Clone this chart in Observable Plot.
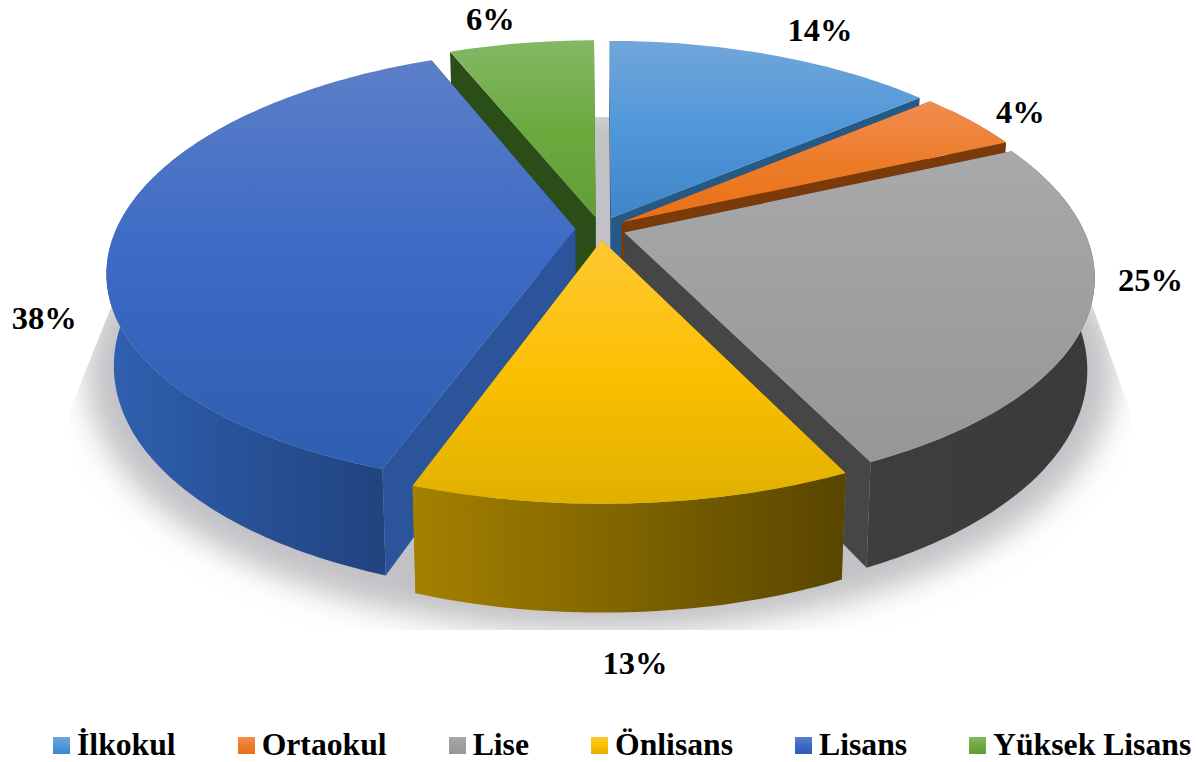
<!DOCTYPE html>
<html>
<head>
<meta charset="utf-8">
<script src="https://cdn.jsdelivr.net/npm/d3@7"></script>
<script src="https://cdn.jsdelivr.net/npm/@observablehq/plot@0.6"></script>
<style>
html,body{margin:0;padding:0;background:#fff}
#legend{display:flex;gap:62px;margin-left:53px;height:34px;align-items:center;font:bold 31.7px "Liberation Serif",serif;color:#000;white-space:nowrap}
#legend span.item{display:inline-flex;align-items:center;gap:7px}
#legend i{display:inline-block;width:17px;height:17px}
</style>
</head>
<body>
<div id="chart"></div>
<div id="legend"></div>
<script>
// Data
const categories = ["İlkokul","Ortaokul","Lise","Önlisans","Lisans","Yüksek Lisans"];
const shares = [13.9,4.4,24.6,12.5,38.4,6.1];

// Appearance
const topStops = [
  ["#72a6da","#4f97d9","#3f86c8"],
  ["#f08d52","#ec7c28","#ea7018"],
  ["#a9a9a9","#9f9f9f","#969696"],
  ["#ffc833","#fbc002","#e0b000"],
  ["#5c7fc8","#3b69c4","#2e5eb0"],
  ["#84b865","#6caa3e","#619e36"]
];
const rimStops = [["#255a86","#255a86"],["#7a3a0a","#7a3a0a"],["#3e3e3e","#3a3a3a"],["#a58100","#584500"],["#2f60b0","#21437f"],["#2b4d18","#2b4d18"]];
const wallFill = ["#255a86","#7a3a0a","#464646","#a58100","#2b549b","#2b4d18"];
const shadowFill = "#c2c2c6";
const drawOrder = [5,0,1,4,2,3];
const labelOffsets = [[47,-25],[50,-8],[61,-30],[2,160],[-70,84],[-31,-24]];

// 3D view
const cx=600, cy=228, Rx=458.7, Ry=212, k=0.1776, kx=0.195, explode=0.055, depth=88.5, baseShrink=0.985;
const rad = d => d*Math.PI/180;
const cum = d3.cumsum(shares);
const total = 100;
const slices = shares.map((s,i)=>{
  const a0=(i?cum[i-1]:0)/total*360, a1=cum[i]/total*360, mid=(a0+a1)/2;
  return {i,a0,a1,mid,ou:explode*Math.sin(rad(mid)),ov:explode*Math.cos(rad(mid))};
});
const proj=(u,v)=>{const s=1/(1+k*v);return {x:cx+Rx*u/(1+kx*v),y:cy-Ry*v*s,s};};
const base=(p)=>({x:cx+(p.x-cx)*baseShrink,y:p.y+depth*p.s});
const rimPt=(sl,a,r=1)=>proj(sl.ou+r*Math.sin(rad(a)),sl.ov+r*Math.cos(rad(a)));
const arc=(sl,r=1)=>{const n=Math.max(8,Math.ceil((sl.a1-sl.a0)));return d3.range(n+1).map(j=>rimPt(sl,sl.a0+(sl.a1-sl.a0)*j/n,r));};

const poly=(pts,fill)=>Plot.line(pts,{x:"x",y:"y",fill,stroke:"none",curve:"linear"});

const marks=[];
// gradients, blur, clip
marks.push((index,{x,y})=>{
  const defs=d3.create("svg:defs");
  const grad=(id,stops,x2,y2)=>{
    const g=defs.append("linearGradient").attr("id",id).attr("x1",0).attr("y1",0).attr("x2",x2).attr("y2",y2);
    stops.forEach((c,j)=>g.append("stop").attr("offset",j/(stops.length-1)).attr("stop-color",c));
  };
  topStops.forEach((s,i)=>grad("top"+i,s,0,1));
  rimStops.forEach((s,i)=>grad("rim"+i,s,1,0));
  defs.append("filter").attr("id","blur").attr("x","-10%").attr("y","-20%").attr("width","120%").attr("height","140%")
    .append("feGaussianBlur").attr("stdDeviation",15);
  const clipPts=[[70,630],[70,410],[187,117],[1024,117],[1130,410],[1130,630]];
  defs.append("clipPath").attr("id","floor").append("polygon")
    .attr("points",clipPts.map(([a,b])=>[x(a),y(b)].join(",")).join(" "));
  return defs.node();
});
// floor shadow
const shadowRing=d3.range(0,361,3).map(a=>base(proj(1.11*Math.sin(rad(a)),1.11*Math.cos(rad(a)))));
marks.push(poly(shadowRing,shadowFill));
// slices, back to front
for(const i of drawOrder){
  const sl=slices[i];
  const apex=proj(sl.ou,sl.ov), tArc=arc(sl), bArc=tArc.map(base);
  const wall=(p)=>[apex,p,base(p),base(apex)];
  marks.push(poly(wall(tArc[0]),wallFill[i]));
  marks.push(poly(wall(tArc[tArc.length-1]),wallFill[i]));
  const front=tArc.map((p,j)=>j).filter(j=>{const a=sl.a0+(sl.a1-sl.a0)*j/(tArc.length-1);return Math.cos(rad(a))<0.6;});
  if(front.length>1){
    const tf=front.map(j=>tArc[j]), bf=front.map(j=>bArc[j]).reverse();
    marks.push(poly(tf.concat(bf),`url(#rim${i})`));
  }
  marks.push(poly([apex,...tArc],`url(#top${i})`));
}
// value labels
const labelRows=slices.map((sl,i)=>{
  const p=rimPt(sl,sl.mid);
  return {x:p.x+labelOffsets[i][0],y:p.y+labelOffsets[i][1],t:Math.round(shares[i])+"%"};
});
marks.push(Plot.text(labelRows,{x:"x",y:"y",text:"t",fontSize:32.5,fontWeight:"bold",fontFamily:"Liberation Serif",fill:"#000",textAnchor:"middle",lineAnchor:"middle"}));

const chart=Plot.plot({
  width:1196,height:728,margin:0,
  x:{domain:[0,1196],range:[0,1196],axis:null},
  y:{domain:[0,728],range:[0,728],axis:null},
  marks
});
// blur and clip the shadow
const sh=chart.querySelector(`[fill="${shadowFill}"]`);
if(sh){
  const outer=document.createElementNS("http://www.w3.org/2000/svg","g");
  outer.setAttribute("clip-path","url(#floor)");
  sh.parentNode.insertBefore(outer,sh);
  outer.appendChild(sh);
  sh.setAttribute("filter","url(#blur)");
}
document.getElementById("chart").appendChild(chart);

// legend
const leg=d3.select("#legend");
categories.forEach((c,i)=>{
  const it=leg.append("span").attr("class","item");
  it.append("i").style("background",`linear-gradient(${topStops[i][0]},${topStops[i][1]},${topStops[i][2]})`);
  it.append("span").text(c);
});
</script>
</body>
</html>
